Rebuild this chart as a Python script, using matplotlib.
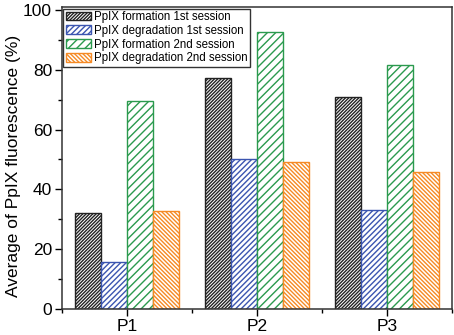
import numpy as np
import matplotlib.pyplot as plt
from matplotlib.ticker import MultipleLocator, FixedLocator

plt.rcParams['font.family'] = ['Liberation Sans', 'DejaVu Sans']
plt.rcParams['hatch.linewidth'] = 1.0

# data
groups = ['P1', 'P2', 'P3']
series = ['PpIX formation 1st session', 'PpIX degradation 1st session',
          'PpIX formation 2nd session', 'PpIX degradation 2nd session']
form1 = [32.0, 77.2, 70.8]
degr1 = [15.8, 50.0, 33.2]
form2 = [69.6, 92.5, 81.5]
degr2 = [32.8, 49.2, 45.7]

colors = ['#222222', '#3b55b0', '#2b9a4e', '#f58a25']
hatches = ['/' * 10, '/' * 6, '////', '\\' * 8]

fig = plt.figure(figsize=(4.54, 3.35), dpi=100)
ax = fig.add_axes([0.136, 0.077, 0.860, 0.902])

x = np.arange(1, len(groups) + 1)
w = 0.2
offs = [-1.5, -0.5, 0.5, 1.5]
for vals, lab, c, h, o in zip([form1, degr1, form2, degr2], series, colors, hatches, offs):
    ax.bar(x + o * w, vals, w, facecolor='white', edgecolor=c, hatch=h,
           linewidth=1.0, label=lab)

ax.set_xlim(0.5, 3.5)
ax.set_ylim(0, 100.9)
ax.set_xticks(x)
ax.set_xticklabels(groups)
ax.xaxis.set_minor_locator(FixedLocator([0.5, 1.5, 2.5, 3.5]))
ax.yaxis.set_major_locator(MultipleLocator(20))
ax.yaxis.set_minor_locator(MultipleLocator(10))
ax.tick_params(which='major', direction='out', length=5, width=1, labelsize=12.5, pad=2)
ax.tick_params(which='minor', direction='out', length=3, width=1)
ax.tick_params(top=False, right=False, which='both')
for s in ax.spines.values():
    s.set_linewidth(1.1)
    s.set_color('#333333')

ax.set_ylabel('Average of PpIX fluorescence (%)', fontsize=12.5)
ax.yaxis.set_label_coords(-0.104, 0.475)

ax.legend(loc='upper left', fontsize=8.3, frameon=True, fancybox=False,
          edgecolor='#333333', framealpha=1, borderaxespad=0.15,
          handlelength=2.15, handleheight=0.8, labelspacing=0.15,
          borderpad=0.2, handletextpad=0.3)

fig.savefig('out.png', dpi=100)
